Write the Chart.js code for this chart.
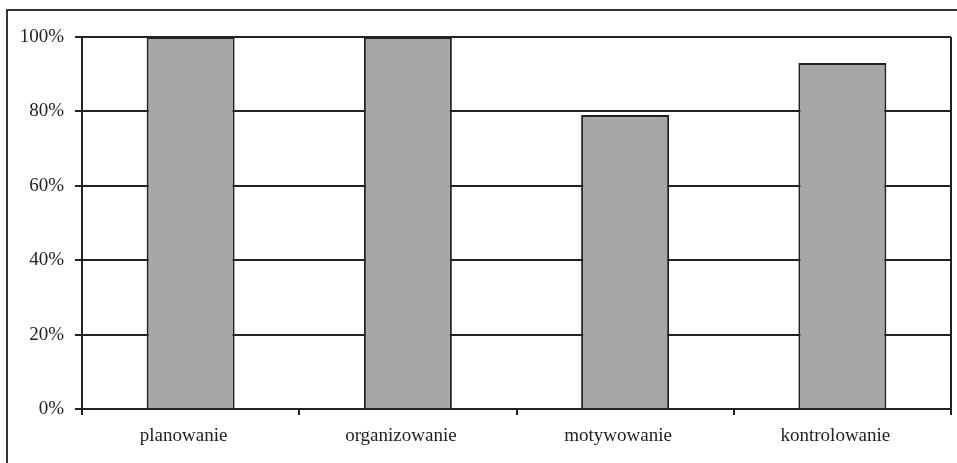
<!DOCTYPE html>
<html>
<head>
<meta charset="utf-8">
<script src="https://cdn.jsdelivr.net/npm/chart.js@4"></script>
<style>
  html, body { margin: 0; padding: 0; background: #fff; }
  #wrap { width: 957px; height: 463px; position: relative; }
</style>
</head>
<body>
<div id="wrap"><canvas id="c" width="957" height="463"></canvas></div>
<script>
// Functions of management and the share of respondents naming each one
const categories = ['planowanie', 'organizowanie', 'motywowanie', 'kontrolowanie'];
const shares = [100, 100, 79, 93];
const yTicks = [0, 20, 40, 60, 80, 100];

const ink = '#222222';
const barFill = '#a6a8a5';
const serif = 'Liberation Serif, Times New Roman, serif';

// Frame around the figure plus the closing right edge of the plot box
const framePlugin = {
  id: 'frame',
  afterDraw(chart) {
    const ctx = chart.ctx;
    const a = chart.chartArea;
    ctx.save();
    ctx.strokeStyle = '#333333';
    ctx.lineWidth = 2;
    ctx.beginPath();
    ctx.moveTo(7, 470);
    ctx.lineTo(7, 10);
    ctx.lineTo(960, 10);
    ctx.stroke();
    ctx.strokeStyle = ink;
    ctx.lineWidth = 2;
    ctx.beginPath();
    ctx.moveTo(a.right, a.top);
    ctx.lineTo(a.right, a.bottom + 4);
    ctx.stroke();
    ctx.restore();
  }
};

new Chart(document.getElementById('c'), {
  type: 'bar',
  data: {
    labels: categories,
    datasets: [{
      data: shares,
      backgroundColor: barFill,
      borderColor: ink,
      borderWidth: 2,
      categoryPercentage: 1,
      barPercentage: 0.405
    }]
  },
  options: {
    responsive: false,
    animation: false,
    devicePixelRatio: 1,
    layout: { padding: { left: 0, right: 6, top: 37, bottom: 0 } },
    plugins: { legend: { display: false }, tooltip: { enabled: false } },
    scales: {
      x: {
        offset: true,
        grid: {
          offset: true,
          drawOnChartArea: false,
          drawTicks: true,
          tickLength: 6,
          color: ink,
          lineWidth: 2
        },
        border: { display: true, color: ink, width: 2 },
        ticks: {
          color: ink,
          padding: 10,
          labelOffset: -7,
          font: { family: serif, size: 19 }
        },
        afterFit(scale) { scale.height = 54; }
      },
      y: {
        min: 0,
        max: 100,
        afterBuildTicks(scale) { scale.ticks = yTicks.map(v => ({ value: v })); },
        grid: { color: ink, lineWidth: 2, tickLength: 7 },
        border: { display: true, color: ink, width: 2 },
        ticks: {
          color: ink,
          padding: 11,
          font: { family: serif, size: 19 },
          callback: v => v + '%'
        },
        afterFit(scale) { scale.width = 82; }
      }
    }
  },
  plugins: [framePlugin]
});
</script>
</body>
</html>
